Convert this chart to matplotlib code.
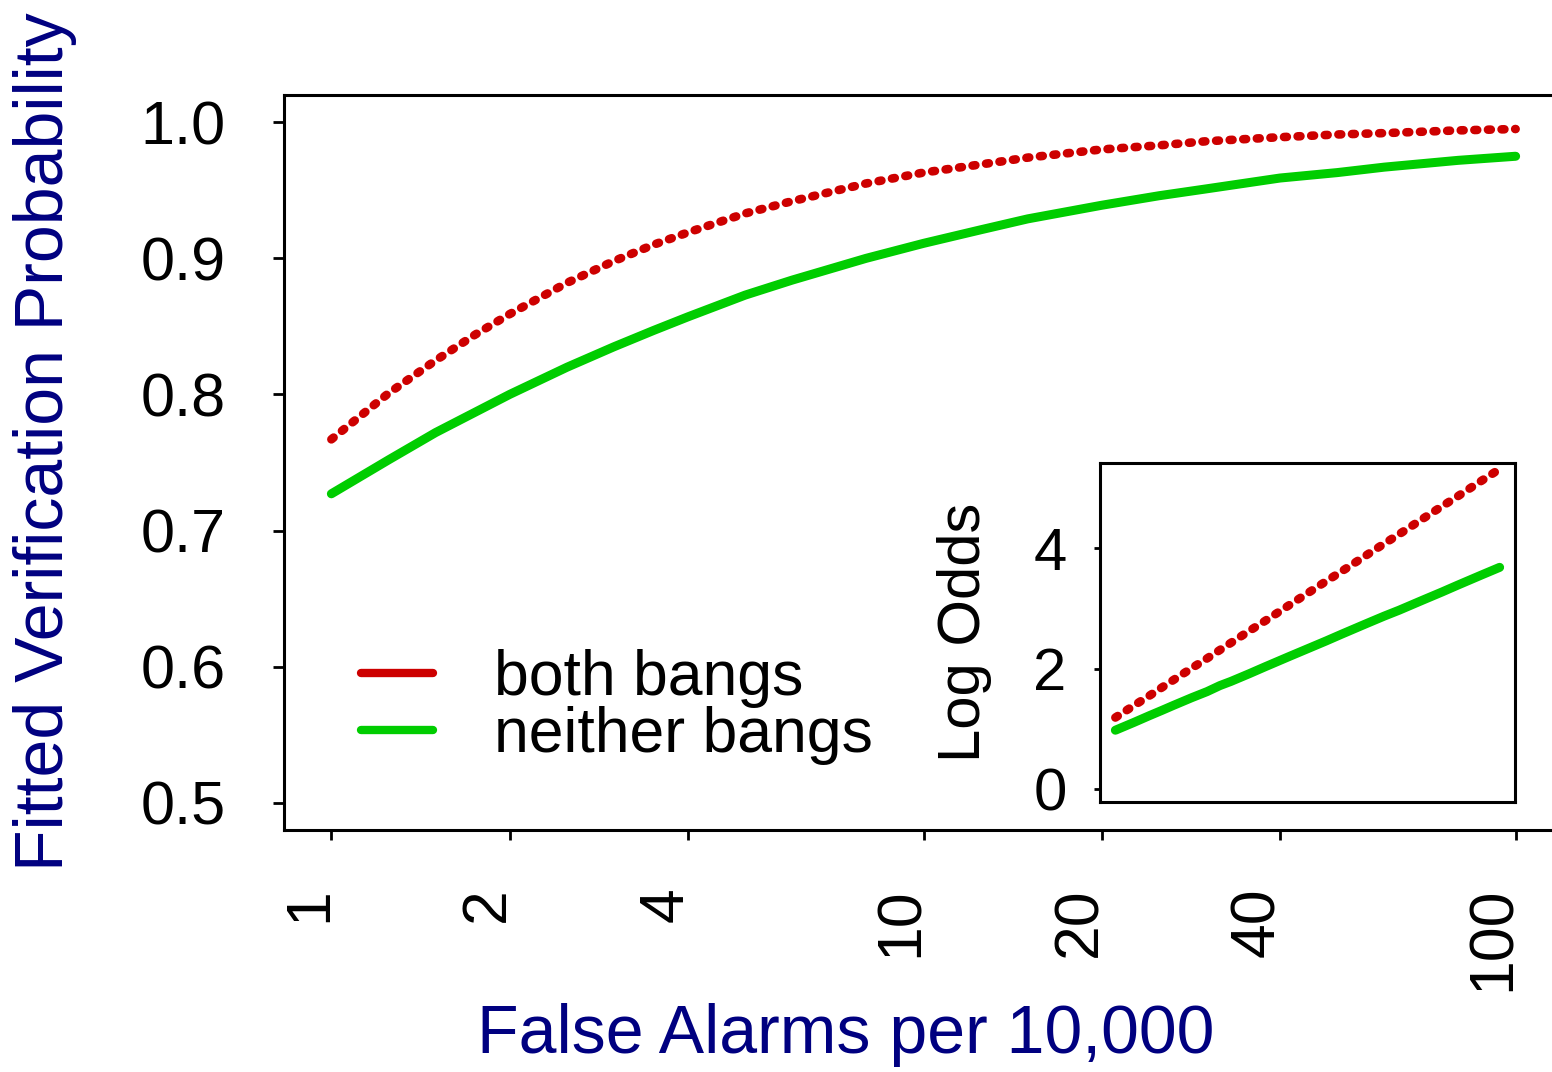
import matplotlib
matplotlib.use("Agg")
import matplotlib.pyplot as plt
import matplotlib.transforms as mtransforms
from matplotlib.lines import Line2D

plt.rcParams['font.family'] = ['Liberation Sans', 'DejaVu Sans']

# values
alarms = [1, 1.25, 1.5, 1.75, 2, 2.5, 3, 3.5, 4, 5, 6, 8, 10,
          12.5, 15, 20, 25, 30, 40, 50, 60, 80, 100]
prob_both = [0.767, 0.801, 0.825, 0.844, 0.859, 0.882, 0.898, 0.910, 0.919, 0.933, 0.942, 0.955, 0.963,
             0.969, 0.974, 0.980, 0.983, 0.986, 0.989, 0.991, 0.992, 0.994, 0.995]
prob_neither = [0.727, 0.752, 0.772, 0.787, 0.800, 0.820, 0.835, 0.847, 0.857, 0.873, 0.884, 0.900, 0.911,
                0.921, 0.929, 0.939, 0.946, 0.951, 0.959, 0.963, 0.967, 0.972, 0.975]
logodds_both = [1.19, 1.39, 1.55, 1.69, 1.81, 2.01, 2.17, 2.31, 2.43, 2.63, 2.79, 3.05, 3.25,
                3.45, 3.61, 3.87, 4.07, 4.23, 4.49, 4.69, 4.85, 5.11, 5.31]
logodds_neither = [0.98, 1.11, 1.22, 1.31, 1.39, 1.52, 1.62, 1.72, 1.79, 1.92, 2.03, 2.20, 2.33,
                   2.46, 2.57, 2.74, 2.87, 2.97, 3.14, 3.27, 3.38, 3.55, 3.68]

xticks = [1, 2, 4, 10, 20, 40, 100]
yticks = [0.5, 0.6, 0.7, 0.8, 0.9, 1.0]
inset_yticks = [0, 2, 4]
labels = ['both bangs', 'neither bangs']

red = '#CD0000'
green = '#00CD00'
navy = '#000080'

fig = plt.figure(figsize=(15.52, 10.72), dpi=100)

# main axes (right edge runs off the figure, as in the reference)
ax = fig.add_axes([284/1552, 1 - 830/1072, 1279/1552, 735/1072])
ax.set_xscale('log')
ax.set_xlim(10**-0.08, 10**2.08)
ax.set_ylim(0.48, 1.02)

dotted = dict(lw=6.2, linestyle=(0, (0.33, 1.25)), dash_capstyle='round')
solid = dict(lw=6.5, solid_capstyle='round', solid_joinstyle='round')
ax.plot(alarms, prob_both, color=red, **dotted)
ax.plot(alarms, prob_neither, color=green, **solid)

ax.set_xticks(xticks)
ax.set_xticklabels([str(v) for v in xticks], rotation=90, va='top', ha='center')
ax.xaxis.set_minor_locator(matplotlib.ticker.NullLocator())
ax.set_yticks(yticks)
ax.set_yticklabels(['%.1f' % v for v in yticks])
ax.tick_params(axis='x', labelsize=45, length=7, width=2, pad=34)
ax.tick_params(axis='y', labelsize=44, length=8, width=2, pad=34)
# R puts the rotated labels just left of the tick
shift = mtransforms.ScaledTranslation(-0.22, 0, fig.dpi_scale_trans)
for lab in ax.get_xticklabels():
    lab.set_transform(lab.get_transform() + shift)
for s in ax.spines.values():
    s.set_linewidth(2.2)

handles = [Line2D([], [], color=red, lw=6, solid_capstyle='round'),
           Line2D([], [], color=green, lw=6, solid_capstyle='round')]
ax.legend(handles, labels, loc='upper left', bbox_to_anchor=(0.041, 0.28),
          frameon=False, fontsize=45, handlelength=1.15, handletextpad=0.97,
          labelspacing=-0.03, borderaxespad=0)

fig.text(45/1552, 1 - 442/1072, 'Fitted Verification Probability', rotation=90,
         ha='center', va='center', fontsize=49, color=navy)
fig.text(846/1552, 1 - 1035/1072, 'False Alarms per 10,000',
         ha='center', va='center', fontsize=49, color=navy)

# inset with log odds
ins = fig.add_axes([1100/1552, 1 - 802/1072, 415/1552, 339/1072])
ins.set_xscale('log')
ins.set_xlim(10**-0.08, 10**2.08)
ins.set_ylim(-0.21, 5.41)
ins.plot(alarms, logodds_both, color=red, **dotted)
ins.plot(alarms, logodds_neither, color=green, **solid)
ins.set_xticks([])
ins.xaxis.set_minor_locator(matplotlib.ticker.NullLocator())
ins.set_yticks(inset_yticks)
ins.tick_params(axis='y', labelsize=43, length=4, width=2, pad=20)
ins.set_ylabel('Log Odds', fontsize=43, labelpad=30)
for s in ins.spines.values():
    s.set_linewidth(2.2)

fig.savefig('out.png', dpi=100)
